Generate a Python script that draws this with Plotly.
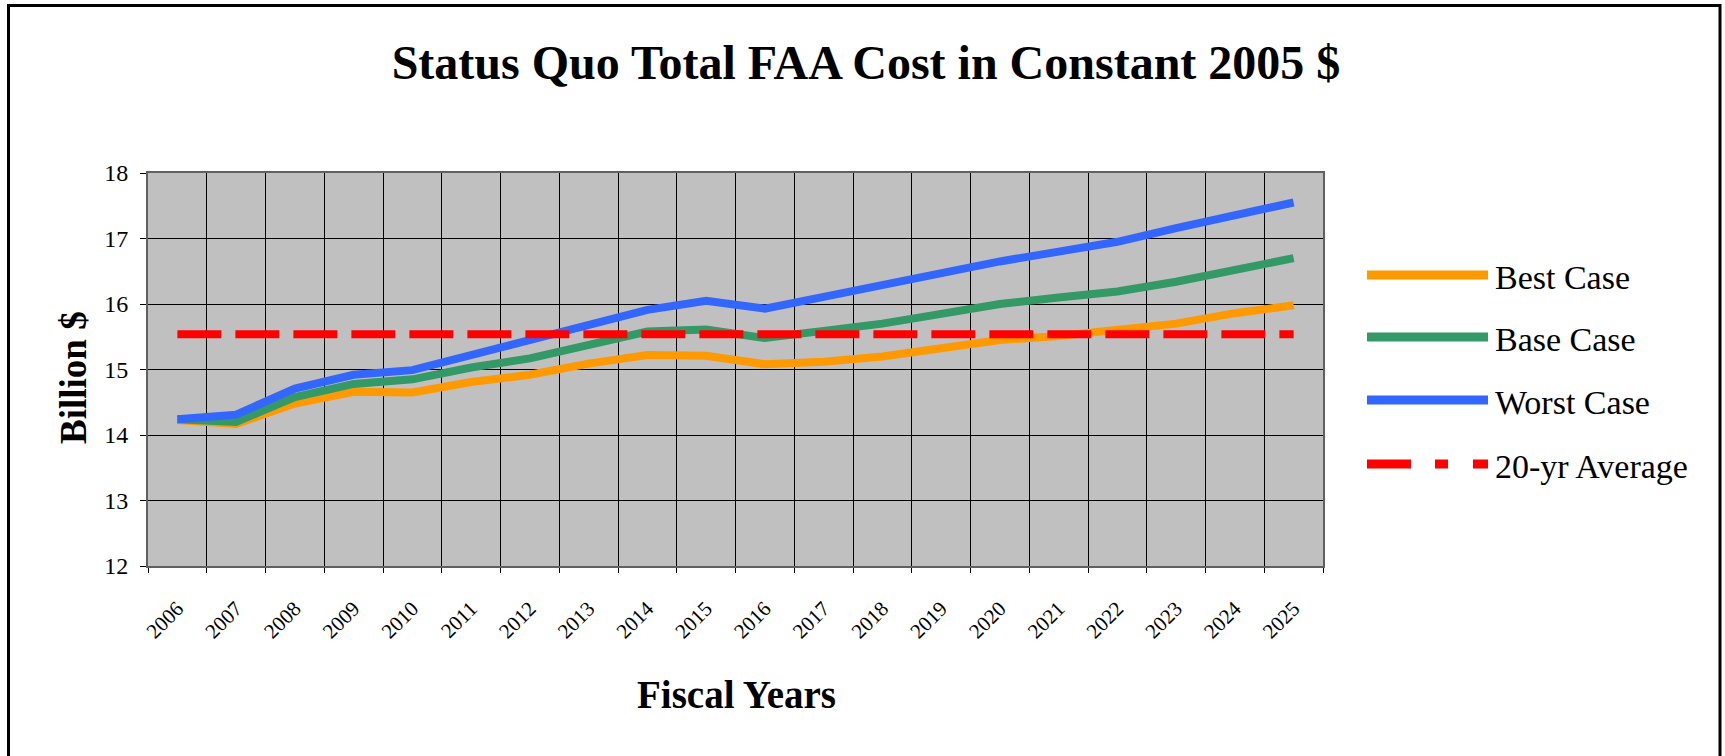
import plotly.graph_objects as go

# FAA status quo cost scenarios, billion $ (constant 2005 $)
years = list(range(2006, 2026))
year_labels = [str(y) for y in years]
best_case = [14.23, 14.17, 14.48, 14.66, 14.65, 14.81, 14.92, 15.09, 15.22, 15.21,
             15.08, 15.12, 15.20, 15.32, 15.45, 15.51, 15.60, 15.70, 15.86, 15.98]
base_case = [14.24, 14.20, 14.58, 14.78, 14.85, 15.03, 15.17, 15.37, 15.58, 15.61,
             15.48, 15.59, 15.70, 15.85, 16.00, 16.10, 16.19, 16.34, 16.52, 16.70]
worst_case = [14.24, 14.31, 14.71, 14.92, 14.99, 15.22, 15.48, 15.70, 15.91, 16.05,
              15.93, 16.11, 16.29, 16.49, 16.65, 16.80, 16.95, 17.16, 17.36, 17.55]
avg_20yr = 15.54

series_names = ["Best Case", "Base Case", "Worst Case", "20-yr Average"]
series_colors = ["#FF9900", "#339966", "#3366FF", "#FF0000"]

FONT = "Liberation Serif, Times New Roman, serif"
W, H = 1725, 756
# plot area in pixels
L, R, T, B = 148, 1323, 173, 566


def px_x(x):
    return (x - L) / (R - L)


def px_y(y):
    return (B - y) / (B - T)


fig = go.Figure()
for name, vals, col in zip(series_names[:3], [best_case, base_case, worst_case], series_colors[:3]):
    fig.add_trace(go.Scatter(x=years, y=vals, mode="lines", name=name,
                             line=dict(color=col, width=8), showlegend=False))

fig.add_trace(go.Scatter(x=years, y=[avg_20yr] * len(years), mode="lines", name=series_names[3],
                         line=dict(color=series_colors[3], width=8, dash="44px,14px"),
                         showlegend=False))

# hand-drawn legend (long sample lines like the original)
shapes = []
annotations = []
legend_rows = [275, 337, 400, 464]
legend_dash = ["solid", "solid", "solid", "44px,24px,13px,25px"]
for name, col, yy, dash in zip(series_names, series_colors, legend_rows, legend_dash):
    shapes.append(dict(type="line", xref="paper", yref="paper",
                       x0=px_x(1367), x1=px_x(1488), y0=px_y(yy), y1=px_y(yy),
                       line=dict(color=col, width=9, dash=dash)))
    annotations.append(dict(text=name, xref="paper", yref="paper",
                            x=px_x(1493), y=px_y(yy + 2), xanchor="left", yanchor="middle",
                            showarrow=False, font=dict(family=FONT, size=34, color="black")))

# axis titles
annotations.append(dict(text="<b>Billion $</b>", xref="paper", yref="paper",
                        x=px_x(73), y=px_y(378), textangle=-90, showarrow=False,
                        xanchor="center", yanchor="middle",
                        font=dict(family=FONT, size=37, color="black")))
annotations.append(dict(text="<b>Fiscal Years</b>", xref="paper", yref="paper",
                        x=px_x(736), y=px_y(694), showarrow=False,
                        xanchor="center", yanchor="middle",
                        font=dict(family=FONT, size=39, color="black")))

# outer chart border
shapes.append(dict(type="rect", xref="paper", yref="paper",
                   x0=px_x(8.5), x1=px_x(1720), y0=px_y(5.5), y1=px_y(800),
                   line=dict(color="black", width=3), fillcolor="rgba(0,0,0,0)", layer="above"))

fig.update_layout(
    width=W, height=H,
    margin=dict(l=L, r=W - R, t=T, b=H - B, pad=0),
    paper_bgcolor="white",
    plot_bgcolor="#C0C0C0",
    title=dict(text="<b>Status Quo Total FAA Cost in Constant 2005 $</b>",
               x=866 / W, xref="container", xanchor="center",
               y=1 - 62 / H, yref="container", yanchor="middle",
               font=dict(family=FONT, size=48, color="black")),
    font=dict(family=FONT, color="black"),
    shapes=shapes,
    annotations=annotations,
    showlegend=False,
)

fig.update_xaxes(
    range=[years[0] - 0.5, years[-1] + 0.5],
    tickmode="array", tickvals=years, ticktext=year_labels,
    tickangle=-45, tickfont=dict(family=FONT, size=21, color="black"),
    ticklabelstandoff=20,
    ticks="", showgrid=False, zeroline=False,
    minor=dict(tickmode="linear", tick0=years[0] - 0.5, dtick=1,
               showgrid=True, gridcolor="black", gridwidth=1,
               ticks="outside", ticklen=5, tickcolor="black"),
    showline=True, linecolor="#606060", linewidth=2, mirror=True,
)
fig.update_yaxes(
    range=[12, 18], dtick=1,
    tickfont=dict(family=FONT, size=24, color="black"),
    ticklabelstandoff=7,
    ticks="outside", ticklen=6, tickcolor="black",
    showgrid=True, gridcolor="black", gridwidth=1, zeroline=False,
    showline=True, linecolor="#606060", linewidth=2, mirror=True,
)

# drop the browser's default page margin and scrollbars so the figure fills the window
fig.write_html(
    "out.html",
    config={"displayModeBar": False},
    post_script=(
        "document.body.style.margin='0';"
        "document.body.style.overflow='hidden';"
        "document.documentElement.style.overflow='hidden';"
    ),
)
